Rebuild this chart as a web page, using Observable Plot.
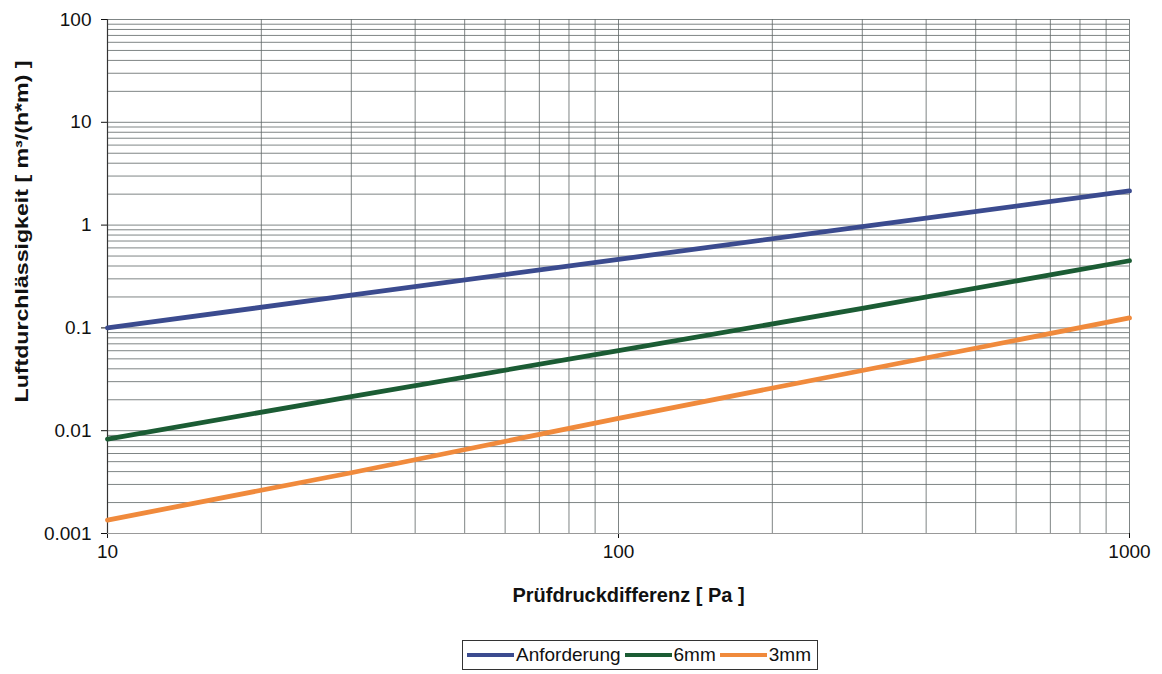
<!DOCTYPE html>
<html>
<head>
<meta charset="utf-8">
<script src="https://cdn.jsdelivr.net/npm/d3@7"></script>
<script src="https://cdn.jsdelivr.net/npm/@observablehq/plot@0.6"></script>
<style>
  body { margin: 0; background: #fff; font-family: "Liberation Sans", Arial, sans-serif; }
  #chart { width: 1162px; height: 632px; }
  .legend { display: flex; justify-content: center; margin-top: 8px; padding-left: 118px; width: 1044px; }
  .legend-box { display: flex; align-items: center; border: 1px solid #333; padding: 3px 6px 3px 4px; font-size: 19px; color: #111; }
  .legend-item { display: flex; align-items: center; margin-right: 4px; }
  .legend-item:last-child { margin-right: 0; }
  .swatch { width: 47px; height: 4px; margin-right: 2px; }
</style>
</head>
<body>
<div id="chart"></div>
<script>
const pressure = [10, 30, 100, 300, 1000];
const anforderung = [0.1, 0.208, 0.464, 0.965, 2.15];
const mm6 = [0.0083, 0.0215, 0.06, 0.155, 0.45];
const mm3 = [0.00135, 0.0039, 0.0132, 0.0385, 0.125];
const seriesNames = ["Anforderung", "6mm", "3mm"];
const seriesColors = ["#3b4b8f", "#1b5c34", "#f08a3c"];
const xTicks = [10, 100, 1000];
const yTicks = [0.001, 0.01, 0.1, 1, 10, 100];
const multipliers = [1, 2, 3, 4, 5, 6, 7, 8, 9];

const rows = [];
[anforderung, mm6, mm3].forEach((vals, i) => {
  pressure.forEach((p, j) => rows.push({series: seriesNames[i], p, v: vals[j]}));
});

const xGrid = [];
xTicks.slice(0, -1).forEach(d => multipliers.forEach(m => xGrid.push(d * m)));
xGrid.push(1000);
const yGrid = [];
yTicks.slice(0, -1).forEach(d => multipliers.forEach(m => yGrid.push(d * m)));
yGrid.push(100);

const chart = Plot.plot({
  width: 1162,
  height: 632,
  marginLeft: 107,
  marginRight: 33,
  marginTop: 19,
  marginBottom: 99,
  style: {fontFamily: "Liberation Sans, Arial, sans-serif", fontSize: "19px", color: "#111", background: "#fff"},
  x: {type: "log", domain: [10, 1000], ticks: xTicks, tickFormat: d => String(d), label: null},
  y: {type: "log", domain: [0.001, 100], ticks: yTicks, tickFormat: d => String(d), label: null},
  color: {domain: seriesNames, range: seriesColors},
  marks: [
    Plot.ruleX(xGrid, {stroke: "#5f6666", strokeWidth: 1, strokeOpacity: 0.8}),
    Plot.ruleY(yGrid, {stroke: "#5f6666", strokeWidth: 1, strokeOpacity: 0.8}),
    Plot.axisX({ticks: xTicks, tickFormat: d => String(d), tickSize: 5, tickPadding: 6, fontSize: 19, label: null}),
    Plot.axisY({ticks: yTicks, tickFormat: d => String(d), tickSize: 6, tickPadding: 10, fontSize: 19, label: null}),
    Plot.ruleX([10], {stroke: "#333", strokeWidth: 1.2}),
    Plot.ruleY([0.001], {stroke: "#999", strokeWidth: 1}),
    Plot.line(rows, {x: "p", y: "v", z: "series", stroke: "series", strokeWidth: 4.8, strokeLinecap: "round"}),
    Plot.text(["Prüfdruckdifferenz [ Pa ]"], {frameAnchor: "bottom", dx: 10, dy: 68, fontWeight: "bold", fontSize: 20}),
    Plot.text(["Luftdurchlässigkeit [ m³/(h*m) ]"], {frameAnchor: "left", dx: -85, dy: -45, rotate: -90, textAnchor: "middle", fontWeight: "bold", fontSize: 18, className: "ylabel"})
  ]
});
document.getElementById("chart").appendChild(chart);
const yl = chart.querySelector(".ylabel text");
if (yl) { yl.setAttribute("textLength", "342"); yl.setAttribute("lengthAdjust", "spacingAndGlyphs"); }

const legend = document.createElement("div");
legend.className = "legend";
const box = document.createElement("div");
box.className = "legend-box";
seriesNames.forEach((n, i) => {
  const item = document.createElement("div");
  item.className = "legend-item";
  const sw = document.createElement("span");
  sw.className = "swatch";
  sw.style.background = seriesColors[i];
  item.appendChild(sw);
  item.appendChild(document.createTextNode(n));
  box.appendChild(item);
});
legend.appendChild(box);
document.body.appendChild(legend);
</script>
</body>
</html>
